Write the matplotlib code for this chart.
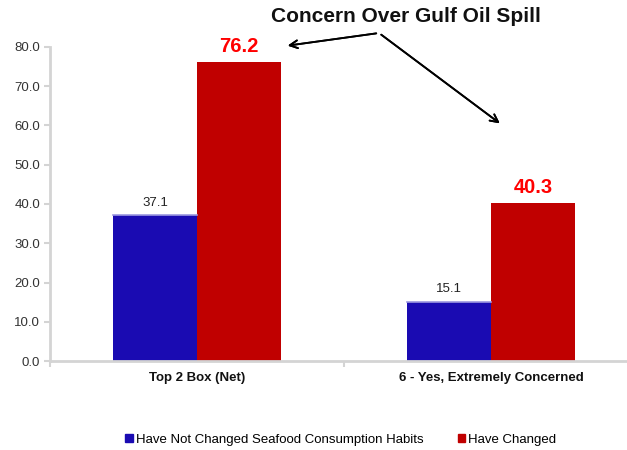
import numpy as np
import matplotlib.pyplot as plt
from matplotlib.patches import Patch

plt.rcParams['font.family'] = ['Liberation Sans', 'DejaVu Sans']

# Survey results
categories = ['Top 2 Box (Net)', '6 - Yes, Extremely Concerned']
not_changed = [37.1, 15.1]
changed = [76.2, 40.3]
series_names = ['Have Not Changed Seafood Consumption Habits', 'Have Changed']
yticks = [0, 10, 20, 30, 40, 50, 60, 70, 80]

blue = '#1a0bb2'
red = '#c00000'
grid_gray = '#d4d4d4'

fig = plt.figure(figsize=(6.27, 4.5), dpi=100)
ax = fig.add_axes([50 / 627, 89 / 450, 588 / 627, 314 / 450])

x = np.arange(len(categories))
w = 0.286
b1 = ax.bar(x - w / 2, not_changed, w, color=blue, edgecolor='none')
b2 = ax.bar(x + w / 2, changed, w, color=red, edgecolor='none')

# light highlight along the top of the blue bars
for rect in b1:
    ax.plot([rect.get_x(), rect.get_x() + rect.get_width()],
            [rect.get_height()] * 2, color='#9c98e0', lw=1.2, zorder=3)

for xi, v in zip(x, not_changed):
    ax.text(xi - w / 2, v + 1.6, f'{v:.1f}', ha='center', va='bottom',
            fontsize=9.5, color='#222222')
for xi, v in zip(x, changed):
    ax.text(xi + w / 2, v + 1.5, f'{v:.1f}', ha='center', va='bottom',
            fontsize=14.5, color='#ff0000', fontweight='bold')

ax.set_xlim(-0.5, 1.5)
ax.set_ylim(0, 80)
ax.set_yticks(yticks)
ax.set_yticklabels([f'{t:.1f}' for t in yticks], fontsize=9.5, color='#333333')
ax.set_xticks([-0.5, 0.5, 1.5], minor=True)
ax.set_xticks(x)
ax.set_xticklabels(categories, fontsize=9.5, fontweight='bold', color='#111111')
ax.tick_params(axis='x', which='major', length=0, pad=8)
ax.tick_params(axis='x', which='minor', length=4, color=grid_gray, width=1.5)
ax.tick_params(axis='y', length=4, color=grid_gray, width=1.5, pad=3)

for s in ['top', 'right']:
    ax.spines[s].set_visible(False)
for s in ['left', 'bottom']:
    ax.spines[s].set_color(grid_gray)
    ax.spines[s].set_linewidth(2)

# title and call-out arrows
fig.text(406 / 627, 1 - 17 / 450, 'Concern Over Gulf Oil Spill', ha='center',
         va='center', fontsize=15, fontweight='bold', color='#111111')
for end in [(285, 46), (502, 125)]:
    fig.add_artist(plt.annotate('', xy=(end[0] / 627, 1 - end[1] / 450),
                                xytext=(379 / 627, 1 - 33 / 450),
                                xycoords='figure fraction',
                                textcoords='figure fraction',
                                arrowprops=dict(arrowstyle='->', color='black',
                                                lw=1.3, mutation_scale=14)))

handles = [Patch(color=blue), Patch(color=red)]
fig.legend(handles, series_names, loc='center', bbox_to_anchor=(341 / 627, 1 - 440 / 450),
           ncol=2, frameon=False, fontsize=9.5, handlelength=0.55, handleheight=0.55,
           handletextpad=0.25, columnspacing=2.6)

fig.savefig('out.png', dpi=100)
